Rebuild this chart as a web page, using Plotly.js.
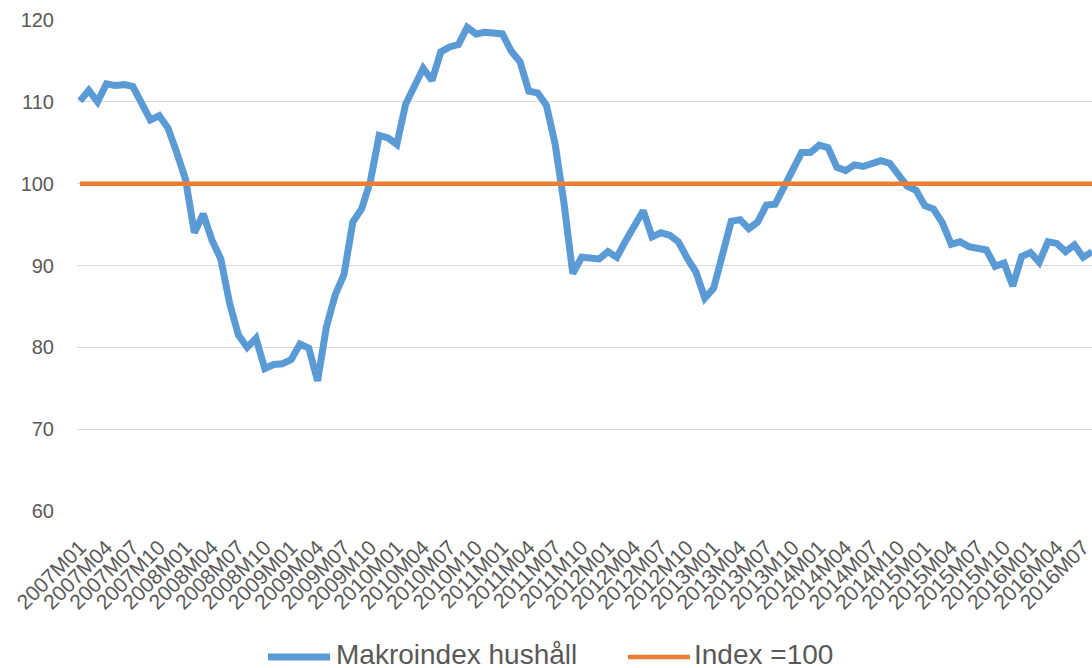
<!DOCTYPE html>
<html>
<head>
<meta charset="utf-8">
<script src="https://cdn.plot.ly/plotly-3.0.1.min.js"></script>
<style>
html,body{margin:0;padding:0;background:#fff;}
#chart{width:1092px;height:668px;}
</style>
</head>
<body>
<div id="chart"></div>
<script>
const categories = [
"2007M01","2007M02","2007M03","2007M04","2007M05","2007M06","2007M07","2007M08","2007M09","2007M10","2007M11","2007M12",
"2008M01","2008M02","2008M03","2008M04","2008M05","2008M06","2008M07","2008M08","2008M09","2008M10","2008M11","2008M12",
"2009M01","2009M02","2009M03","2009M04","2009M05","2009M06","2009M07","2009M08","2009M09","2009M10","2009M11","2009M12",
"2010M01","2010M02","2010M03","2010M04","2010M05","2010M06","2010M07","2010M08","2010M09","2010M10","2010M11","2010M12",
"2011M01","2011M02","2011M03","2011M04","2011M05","2011M06","2011M07","2011M08","2011M09","2011M10","2011M11","2011M12",
"2012M01","2012M02","2012M03","2012M04","2012M05","2012M06","2012M07","2012M08","2012M09","2012M10","2012M11","2012M12",
"2013M01","2013M02","2013M03","2013M04","2013M05","2013M06","2013M07","2013M08","2013M09","2013M10","2013M11","2013M12",
"2014M01","2014M02","2014M03","2014M04","2014M05","2014M06","2014M07","2014M08","2014M09","2014M10","2014M11","2014M12",
"2015M01","2015M02","2015M03","2015M04","2015M05","2015M06","2015M07","2015M08","2015M09","2015M10","2015M11","2015M12",
"2016M01","2016M02","2016M03","2016M04","2016M05","2016M06","2016M07","2016M08"
];

const makroindexHushall = [
110.1,111.4,110.0,112.2,112.0,112.1,111.9,110.0,107.8,108.3,106.8,103.8,
100.5,94.0,96.3,93.1,90.8,85.4,81.5,80.0,81.1,77.4,77.9,78.0,
78.5,80.4,79.9,75.9,82.5,86.4,88.9,95.3,96.9,100.3,105.9,105.6,
104.8,109.7,111.9,114.1,112.6,116.1,116.7,117.0,119.1,118.3,118.5,118.4,
118.3,116.2,114.9,111.3,111.1,109.6,104.8,97.6,89.0,91.0,90.9,90.8,
91.7,91.0,93.0,94.9,96.7,93.5,94.0,93.7,92.9,90.9,89.2,86.0,
87.2,91.3,95.4,95.6,94.5,95.3,97.4,97.5,99.7,101.7,103.8,103.8,
104.7,104.4,102.0,101.6,102.3,102.1,102.5,102.8,102.5,101.1,99.7,99.2,
97.3,96.9,95.2,92.6,92.9,92.3,92.0,91.9,89.9,90.3,87.5,91.1,
91.6,90.4,92.9,92.7,91.7,92.5,91.0,91.7
];

const index100 = [
100,100,100,100,100,100,100,100,100,100,100,100,
100,100,100,100,100,100,100,100,100,100,100,100,
100,100,100,100,100,100,100,100,100,100,100,100,
100,100,100,100,100,100,100,100,100,100,100,100,
100,100,100,100,100,100,100,100,100,100,100,100,
100,100,100,100,100,100,100,100,100,100,100,100,
100,100,100,100,100,100,100,100,100,100,100,100,
100,100,100,100,100,100,100,100,100,100,100,100,
100,100,100,100,100,100,100,100,100,100,100,100,
100,100,100,100,100,100,100,100
];

const tickLabels = [
"2007M01","2007M04","2007M07","2007M10","2008M01","2008M04","2008M07","2008M10",
"2009M01","2009M04","2009M07","2009M10","2010M01","2010M04","2010M07","2010M10",
"2011M01","2011M04","2011M07","2011M10","2012M01","2012M04","2012M07","2012M10",
"2013M01","2013M04","2013M07","2013M10","2014M01","2014M04","2014M07","2014M10",
"2015M01","2015M04","2015M07","2015M10","2016M01","2016M04","2016M07"
];

const yTicks = [60,70,80,90,100,110,120];

const seriesNames = ["Makroindex hushåll", "Index =100"];
const seriesColors = ["#5B9BD5", "#ED7D31"];

const FONT = "Liberation Sans, Arial, sans-serif";
const GREY = "#595959";

const traces = [
  {
    type: "scatter", mode: "lines", name: seriesNames[0],
    x: categories, y: makroindexHushall,
    line: {color: seriesColors[0], width: 7},
    hoverinfo: "x+y"
  },
  {
    type: "scatter", mode: "lines", name: seriesNames[1],
    x: categories, y: index100,
    line: {color: seriesColors[1], width: 4.5},
    hoverinfo: "x+y"
  }
];

// custom legend (line samples + text), placed in paper coordinates
const L = 77, R = 1092, T = 20, B = 511;
const px = v => (v - L) / (R - L);
const py = v => (B - v) / (B - T);
const legendY = 656;

const layout = {
  width: 1092, height: 668,
  margin: {l: L, r: 1092 - R, t: T, b: 668 - B, pad: 0},
  paper_bgcolor: "#ffffff", plot_bgcolor: "#ffffff",
  showlegend: false,
  font: {family: FONT, color: GREY, size: 20},
  xaxis: {
    type: "category",
    range: [-0.34, categories.length - 1],
    tickmode: "array", tickvals: tickLabels, ticktext: tickLabels,
    tickangle: -45,
    tickfont: {family: FONT, size: 21, color: GREY},
    showgrid: false, zeroline: false, showline: false, ticks: "",
    ticklabelstandoff: 19
  },
  yaxis: {
    range: [60, 120],
    tickmode: "array", tickvals: yTicks,
    tickfont: {family: FONT, size: 20, color: GREY},
    showgrid: true, gridcolor: "#d9d9d9", gridwidth: 1.3,
    zeroline: false, showline: false, ticks: "",
    ticklabelstandoff: 22
  },
  shapes: [
    {type: "line", xref: "paper", yref: "paper", x0: px(268), x1: px(330), y0: py(legendY + 1), y1: py(legendY + 1),
     line: {color: seriesColors[0], width: 7}},
    {type: "line", xref: "paper", yref: "paper", x0: px(628), x1: px(690), y0: py(legendY + 1), y1: py(legendY + 1),
     line: {color: seriesColors[1], width: 4.5}}
  ],
  annotations: [
    {xref: "paper", yref: "paper", x: px(334), y: py(legendY - 2), xanchor: "left", yanchor: "middle",
     text: seriesNames[0], showarrow: false, font: {family: FONT, size: 28, color: GREY}},
    {xref: "paper", yref: "paper", x: px(692), y: py(legendY - 2), xanchor: "left", yanchor: "middle",
     text: seriesNames[1], showarrow: false, font: {family: FONT, size: 28, color: GREY}}
  ]
};

Plotly.newPlot("chart", traces, layout, {displayModeBar: false, responsive: false});
</script>
</body>
</html>
